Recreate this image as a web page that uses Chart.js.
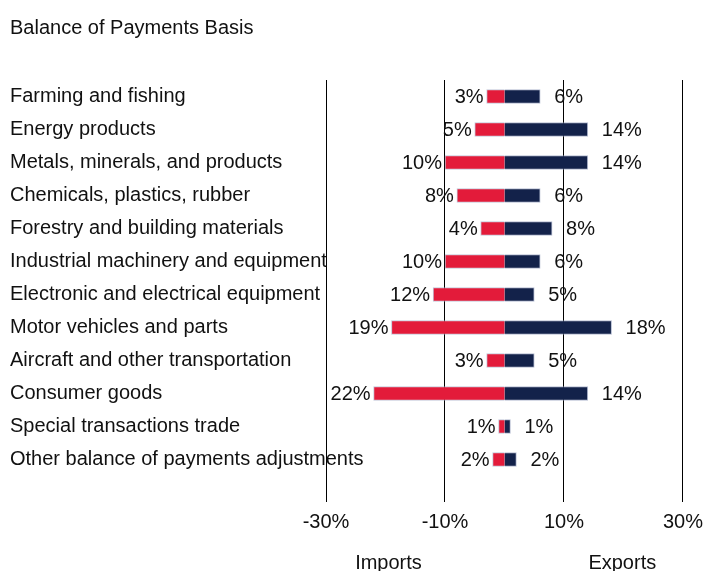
<!DOCTYPE html>
<html>
<head>
<meta charset="utf-8">
<script src="https://cdn.jsdelivr.net/npm/chart.js@4.4.1/dist/chart.umd.min.js"></script>
<style>
  body { margin: 0; background: #fff; }
  #wrap { width: 711px; height: 571px; }
</style>
</head>
<body>
<div id="wrap"><canvas id="trade" width="711" height="571"></canvas></div>
<script>
var categories = [
    'Farming and fishing',
    'Energy products',
    'Metals, minerals, and products',
    'Chemicals, plastics, rubber',
    'Forestry and building materials',
    'Industrial machinery and equipment',
    'Electronic and electrical equipment',
    'Motor vehicles and parts',
    'Aircraft and other transportation',
    'Consumer goods',
    'Special transactions trade',
    'Other balance of payments adjustments'
];
var imports = [3, 5, 10, 8, 4, 10, 12, 19, 3, 22, 1, 2];
var exports = [6, 14, 14, 6, 8, 6, 5, 18, 5, 14, 1, 2];
var xTicks = [-30, -10, 10, 30];
var sideLabels = [{ text: 'Imports', at: -19.5 }, { text: 'Exports', at: 19.8 }];

var FONT = '"Liberation Sans", Arial, sans-serif';
var INK = '#111';

// percentages next to each bar end
var valueLabels = {
    id: 'valueLabels',
    afterDatasetsDraw: function (chart) {
        var ctx = chart.ctx;
        ctx.save();
        ctx.font = '20px ' + FONT;
        ctx.fillStyle = INK;
        ctx.textBaseline = 'middle';
        chart.getDatasetMeta(0).data.forEach(function (bar, i) {
            ctx.textAlign = 'right';
            ctx.fillText(imports[i] + '%', bar.x - 3, bar.y + 1);
        });
        chart.getDatasetMeta(1).data.forEach(function (bar, i) {
            ctx.textAlign = 'left';
            ctx.fillText(exports[i] + '%', bar.x + 14, bar.y + 1);
        });
        // Imports / Exports under the axis
        var x = chart.scales.x;
        ctx.textAlign = 'center';
        sideLabels.forEach(function (s) {
            ctx.fillText(s.text, x.getPixelForValue(s.at), 563);
        });
        ctx.restore();
    }
};

new Chart(document.getElementById('trade'), {
    type: 'bar',
    data: {
        labels: categories,
        datasets: [
            {
                label: 'Imports',
                data: imports.map(function (v) { return -v; }),
                backgroundColor: '#e31b3a',
                borderColor: 'rgba(170,175,200,0.7)',
                borderWidth: 1,
                barThickness: 14
            },
            {
                label: 'Exports',
                data: exports,
                backgroundColor: '#13224a',
                borderColor: 'rgba(150,160,190,0.7)',
                borderWidth: 1,
                barThickness: 14
            }
        ]
    },
    options: {
        indexAxis: 'y',
        responsive: false,
        animation: false,
        layout: { padding: { left: 10, right: 25, top: 0, bottom: 37 } },
        plugins: {
            legend: { display: false },
            tooltip: { enabled: false },
            title: {
                display: true,
                text: 'Balance of Payments Basis',
                align: 'start',
                color: INK,
                font: { family: FONT, size: 20, weight: 'normal' },
                padding: { top: 16, bottom: 40 }
            }
        },
        scales: {
            x: {
                stacked: true,
                min: -30,
                max: 30,
                afterBuildTicks: function (scale) {
                    scale.ticks = xTicks.map(function (v) { return { value: v }; });
                },
                afterFit: function (scale) { scale.height = 58; },
                grid: { color: '#000', lineWidth: 1, tickLength: 26 },
                border: { display: false },
                ticks: {
                    color: INK,
                    padding: 8,
                    maxRotation: 0,
                    font: { family: FONT, size: 20 },
                    callback: function (v) { return v + '%'; }
                }
            },
            y: {
                stacked: true,
                grid: { display: false },
                border: { display: false },
                afterFit: function (scale) {
                    scale.width = 316;
                    // long category names run past the axis box into the plot
                    scale._computeLabelArea = function () {};
                },
                ticks: {
                    crossAlign: 'far',
                    color: INK,
                    padding: 0,
                    font: { family: FONT, size: 20 }
                }
            }
        }
    },
    plugins: [valueLabels]
});
</script>
</body>
</html>
